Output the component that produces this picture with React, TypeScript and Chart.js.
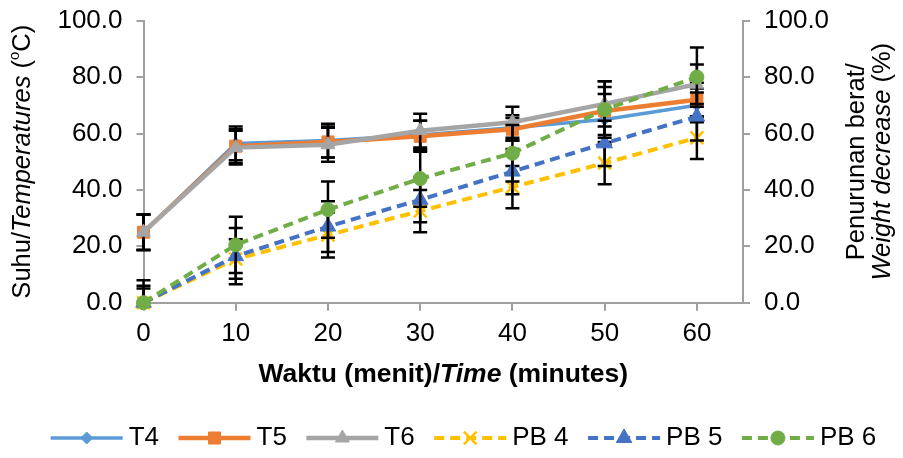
import React, { useEffect, useRef } from "react";
import { Chart, registerables } from "chart.js";
import { drawPoint } from "chart.js/helpers";

Chart.register(...registerables);

// Sampling times (minutes)
const timeMinutes = [0, 10, 20, 30, 40, 50, 60];

// Temperature (°C), left axis
const tempT4 = [25.0, 56.5, 57.5, 59.5, 62.0, 65.0, 70.0];
const tempT5 = [25.0, 55.5, 57.0, 59.0, 61.5, 68.0, 72.0];
const tempT6 = [25.0, 55.0, 56.0, 61.0, 64.0, 70.5, 77.5];
const errT4 = [6.3, 6.0, 6.0, 5.0, 4.5, 9.0, 6.0];
const errT5 = [6.3, 6.0, 5.5, 5.5, 4.0, 8.5, 6.0];
const errT6 = [6.3, 6.0, 6.0, 6.0, 5.5, 8.0, 7.0];

// Weight decrease (%), right axis
const weightPB4 = [0.0, 15.5, 24.0, 32.5, 41.0, 49.5, 58.5];
const weightPB5 = [0.0, 16.5, 27.0, 36.5, 46.5, 56.5, 66.0];
const weightPB6 = [0.0, 20.5, 33.0, 44.0, 53.0, 68.5, 80.0];
const errPB4 = [5.0, 7.0, 8.0, 7.5, 7.5, 7.5, 7.5];
const errPB5 = [6.0, 10.0, 9.0, 8.0, 8.0, 8.0, 8.5];
const errPB6 = [8.0, 10.0, 10.0, 10.0, 10.0, 10.0, 10.5];

// Axis ticks
const xTickValues = [0, 10, 20, 30, 40, 50, 60];
const yTickValues = [0, 20, 40, 60, 80, 100];

const FONT = "'Liberation Sans', Arial, sans-serif";
const AXIS_GRAY = "#A0A0A0";

const toPoints = (ys: number[]) => timeMinutes.map((x, i) => ({ x, y: ys[i] }));

type Run = { text: string; font: string; rise?: number };

// Draws a row of differently styled text pieces centred on (0,0) of the current transform.
function drawRuns(ctx: CanvasRenderingContext2D, runs: Run[], y: number) {
  let total = 0;
  const widths = runs.map((r) => {
    ctx.font = r.font;
    const w = ctx.measureText(r.text).width;
    total += w;
    return w;
  });
  let x = -total / 2;
  runs.forEach((r, i) => {
    ctx.font = r.font;
    ctx.fillText(r.text, x, y - (r.rise || 0));
    x += widths[i];
  });
}

const errorBarPlugin = {
  id: "errorBars",
  beforeDatasetDraw(chart: any, args: any) {
    const ds = chart.data.datasets[args.index];
    const errs: number[] | undefined = ds.errorBars;
    if (!errs) return;
    const meta = args.meta;
    const xScale = chart.scales[meta.xAxisID];
    const yScale = chart.scales[meta.yAxisID];
    const area = chart.chartArea;
    const ctx: CanvasRenderingContext2D = chart.ctx;
    ctx.save();
    ctx.beginPath();
    ctx.rect(0, area.top - 1, chart.width, area.bottom - area.top + 1);
    ctx.clip();
    ctx.strokeStyle = "#000000";
    ctx.lineWidth = 2.5;
    ds.data.forEach((pt: { x: number; y: number }, i: number) => {
      const x = xScale.getPixelForValue(pt.x);
      const hi = yScale.getPixelForValue(pt.y + errs[i]);
      const lo = yScale.getPixelForValue(pt.y - errs[i]);
      ctx.beginPath();
      ctx.moveTo(x, hi);
      ctx.lineTo(x, lo);
      ctx.moveTo(x - 7, hi);
      ctx.lineTo(x + 7, hi);
      ctx.moveTo(x - 7, lo);
      ctx.lineTo(x + 7, lo);
      ctx.stroke();
    });
    ctx.restore();
  },
};

const titlesAndLegendPlugin = {
  id: "titlesAndLegend",
  afterDraw(chart: any) {
    const ctx: CanvasRenderingContext2D = chart.ctx;
    const area = chart.chartArea;
    const midY = (area.top + area.bottom) / 2;
    const midX = (area.left + area.right) / 2;
    const reg = `25.5px ${FONT}`;
    const ita = `italic 25.5px ${FONT}`;
    const legendFont = `26px ${FONT}`;
    ctx.save();
    ctx.fillStyle = "#000000";
    ctx.textBaseline = "middle";
    ctx.textAlign = "left";

    // x-axis title
    ctx.save();
    ctx.translate(midX, 367);
    drawRuns(
      ctx,
      [
        { text: "Waktu (menit)/", font: `bold 26.5px ${FONT}` },
        { text: "Time", font: `italic bold 26.5px ${FONT}` },
        { text: " (minutes)", font: `bold 26.5px ${FONT}` },
      ],
      0
    );
    ctx.restore();

    // left y-axis title
    ctx.save();
    ctx.translate(15, midY);
    ctx.rotate(-Math.PI / 2);
    drawRuns(
      ctx,
      [
        { text: "Suhu/", font: reg },
        { text: "Temperatures", font: ita },
        { text: " (", font: reg },
        { text: "o", font: `15px ${FONT}`, rise: 8 },
        { text: "C)", font: reg },
      ],
      0
    );
    ctx.restore();

    // right y-axis title (two lines)
    ctx.save();
    ctx.translate(862, midY);
    ctx.rotate(-Math.PI / 2);
    drawRuns(ctx, [{ text: "Penurunan berat/", font: reg }], -13);
    drawRuns(
      ctx,
      [
        { text: "Weight decrease", font: ita },
        { text: " (%)", font: reg },
      ],
      13
    );
    ctx.restore();

    // legend: line sample with marker, then label
    const sampleW = 72;
    const gap = 6;
    const spacing = 19.5;
    ctx.font = legendFont;
    const items = chart.data.datasets.map((ds: any) => ({
      ds,
      w: ctx.measureText(ds.label).width,
    }));
    const total =
      items.reduce((s: number, it: any) => s + sampleW + gap + it.w, 0) +
      spacing * (items.length - 1);
    let x = chart.width / 2 + 12 - total / 2;
    const ly = 430;
    items.forEach((it: any) => {
      const ds = it.ds;
      ctx.save();
      ctx.strokeStyle = ds.borderColor;
      ctx.lineWidth = ds.borderWidth;
      ctx.setLineDash(ds.borderDash || []);
      ctx.beginPath();
      ctx.moveTo(x, ly);
      ctx.lineTo(x + sampleW, ly);
      ctx.stroke();
      ctx.setLineDash([]);
      ctx.fillStyle = ds.pointBackgroundColor;
      ctx.strokeStyle = ds.pointBorderColor;
      ctx.lineWidth = ds.pointBorderWidth;
      drawPoint(
        ctx,
        {
          pointStyle: ds.pointStyle,
          rotation: 0,
          radius: ds.pointRadius,
          borderWidth: ds.pointBorderWidth,
        } as any,
        x + sampleW / 2,
        ly
      );
      ctx.restore();
      ctx.font = legendFont;
      ctx.fillStyle = "#000000";
      ctx.fillText(ds.label, x + sampleW + gap, ly);
      x += sampleW + gap + it.w + spacing;
    });
    ctx.restore();
  },
};

function series(
  label: string,
  values: number[],
  errs: number[],
  axis: string,
  color: string,
  width: number,
  pointStyle: string,
  radius: number,
  dashed: boolean,
  order: number,
  pointBorderWidth = 1
) {
  return {
    label,
    data: toPoints(values),
    errorBars: errs,
    yAxisID: axis,
    borderColor: color,
    backgroundColor: color,
    pointBackgroundColor: color,
    pointBorderColor: color,
    pointBorderWidth,
    borderWidth: width,
    borderDash: dashed ? [10, 6] : undefined,
    pointStyle,
    pointRadius: radius,
    pointHoverRadius: radius,
    tension: 0,
    clip: false,
    order,
  };
}

export default function App() {
  const canvasRef = useRef<HTMLCanvasElement | null>(null);

  useEffect(() => {
    if (!canvasRef.current) return;
    const tickFont = { family: FONT, size: 26 };
    const yAxis = (position: "left" | "right", width: number) => ({
      type: "linear" as const,
      position,
      min: 0,
      max: 100,
      afterBuildTicks: (s: any) => {
        s.ticks = yTickValues.map((v) => ({ value: v }));
      },
      afterFit: (s: any) => {
        s.width = width;
        s.paddingTop = 0;
        s.paddingBottom = 0;
      },
      ticks: {
        font: tickFont,
        color: "#000000",
        padding: 14,
        callback: (v: any) => Number(v).toFixed(1),
      },
      grid: {
        display: true,
        drawOnChartArea: false,
        drawTicks: true,
        tickLength: 7,
        color: AXIS_GRAY,
        lineWidth: 2,
      },
      border: { display: true, color: AXIS_GRAY, width: 2 },
    });

    const chart = new Chart(canvasRef.current, {
      type: "line",
      data: {
        datasets: [
          series("T4", tempT4, errT4, "y", "#5B9BD5", 3.5, "rectRot", 6, false, 0),
          series("T5", tempT5, errT5, "y", "#ED7D31", 4.5, "rect", 8.5, false, -1),
          series("T6", tempT6, errT6, "y", "#A5A5A5", 4.5, "triangle", 8, false, -2),
          series("PB 4", weightPB4, errPB4, "y2", "#FFC000", 4, "crossRot", 9, true, -3, 2.5),
          series("PB 5", weightPB5, errPB5, "y2", "#4472C4", 4, "triangle", 9, true, -4),
          series("PB 6", weightPB6, errPB6, "y2", "#70AD47", 4, "circle", 7, true, -5),
        ] as any,
      },
      options: {
        animation: false,
        responsive: true,
        maintainAspectRatio: false,
        devicePixelRatio: 1,
        layout: { padding: { top: 12.7, left: 0, right: 0, bottom: 97.3 } },
        plugins: {
          legend: { display: false },
          tooltip: { enabled: false },
        },
        scales: {
          x: {
            type: "linear",
            position: "bottom",
            min: 0,
            max: 65,
            afterBuildTicks: (s: any) => {
              s.ticks = xTickValues.map((v) => ({ value: v }));
            },
            afterFit: (s: any) => {
              s.height = 50;
              s.paddingLeft = 0;
              s.paddingRight = 0;
            },
            ticks: {
              font: tickFont,
              color: "#000000",
              padding: 8,
              maxRotation: 0,
              autoSkip: false,
              callback: (v: any) => String(v),
            },
            grid: {
              display: true,
              drawOnChartArea: false,
              drawTicks: true,
              tickLength: 8,
              color: AXIS_GRAY,
              lineWidth: 2,
            },
            border: { display: true, color: AXIS_GRAY, width: 2 },
          },
          y: yAxis("left", 135.5),
          y2: yAxis("right", 152),
        },
      } as any,
      plugins: [errorBarPlugin, titlesAndLegendPlugin],
    });
    return () => chart.destroy();
  }, []);

  return (
    <div style={{ position: "relative", width: 887, height: 442 }}>
      <canvas ref={canvasRef} />
    </div>
  );
}
